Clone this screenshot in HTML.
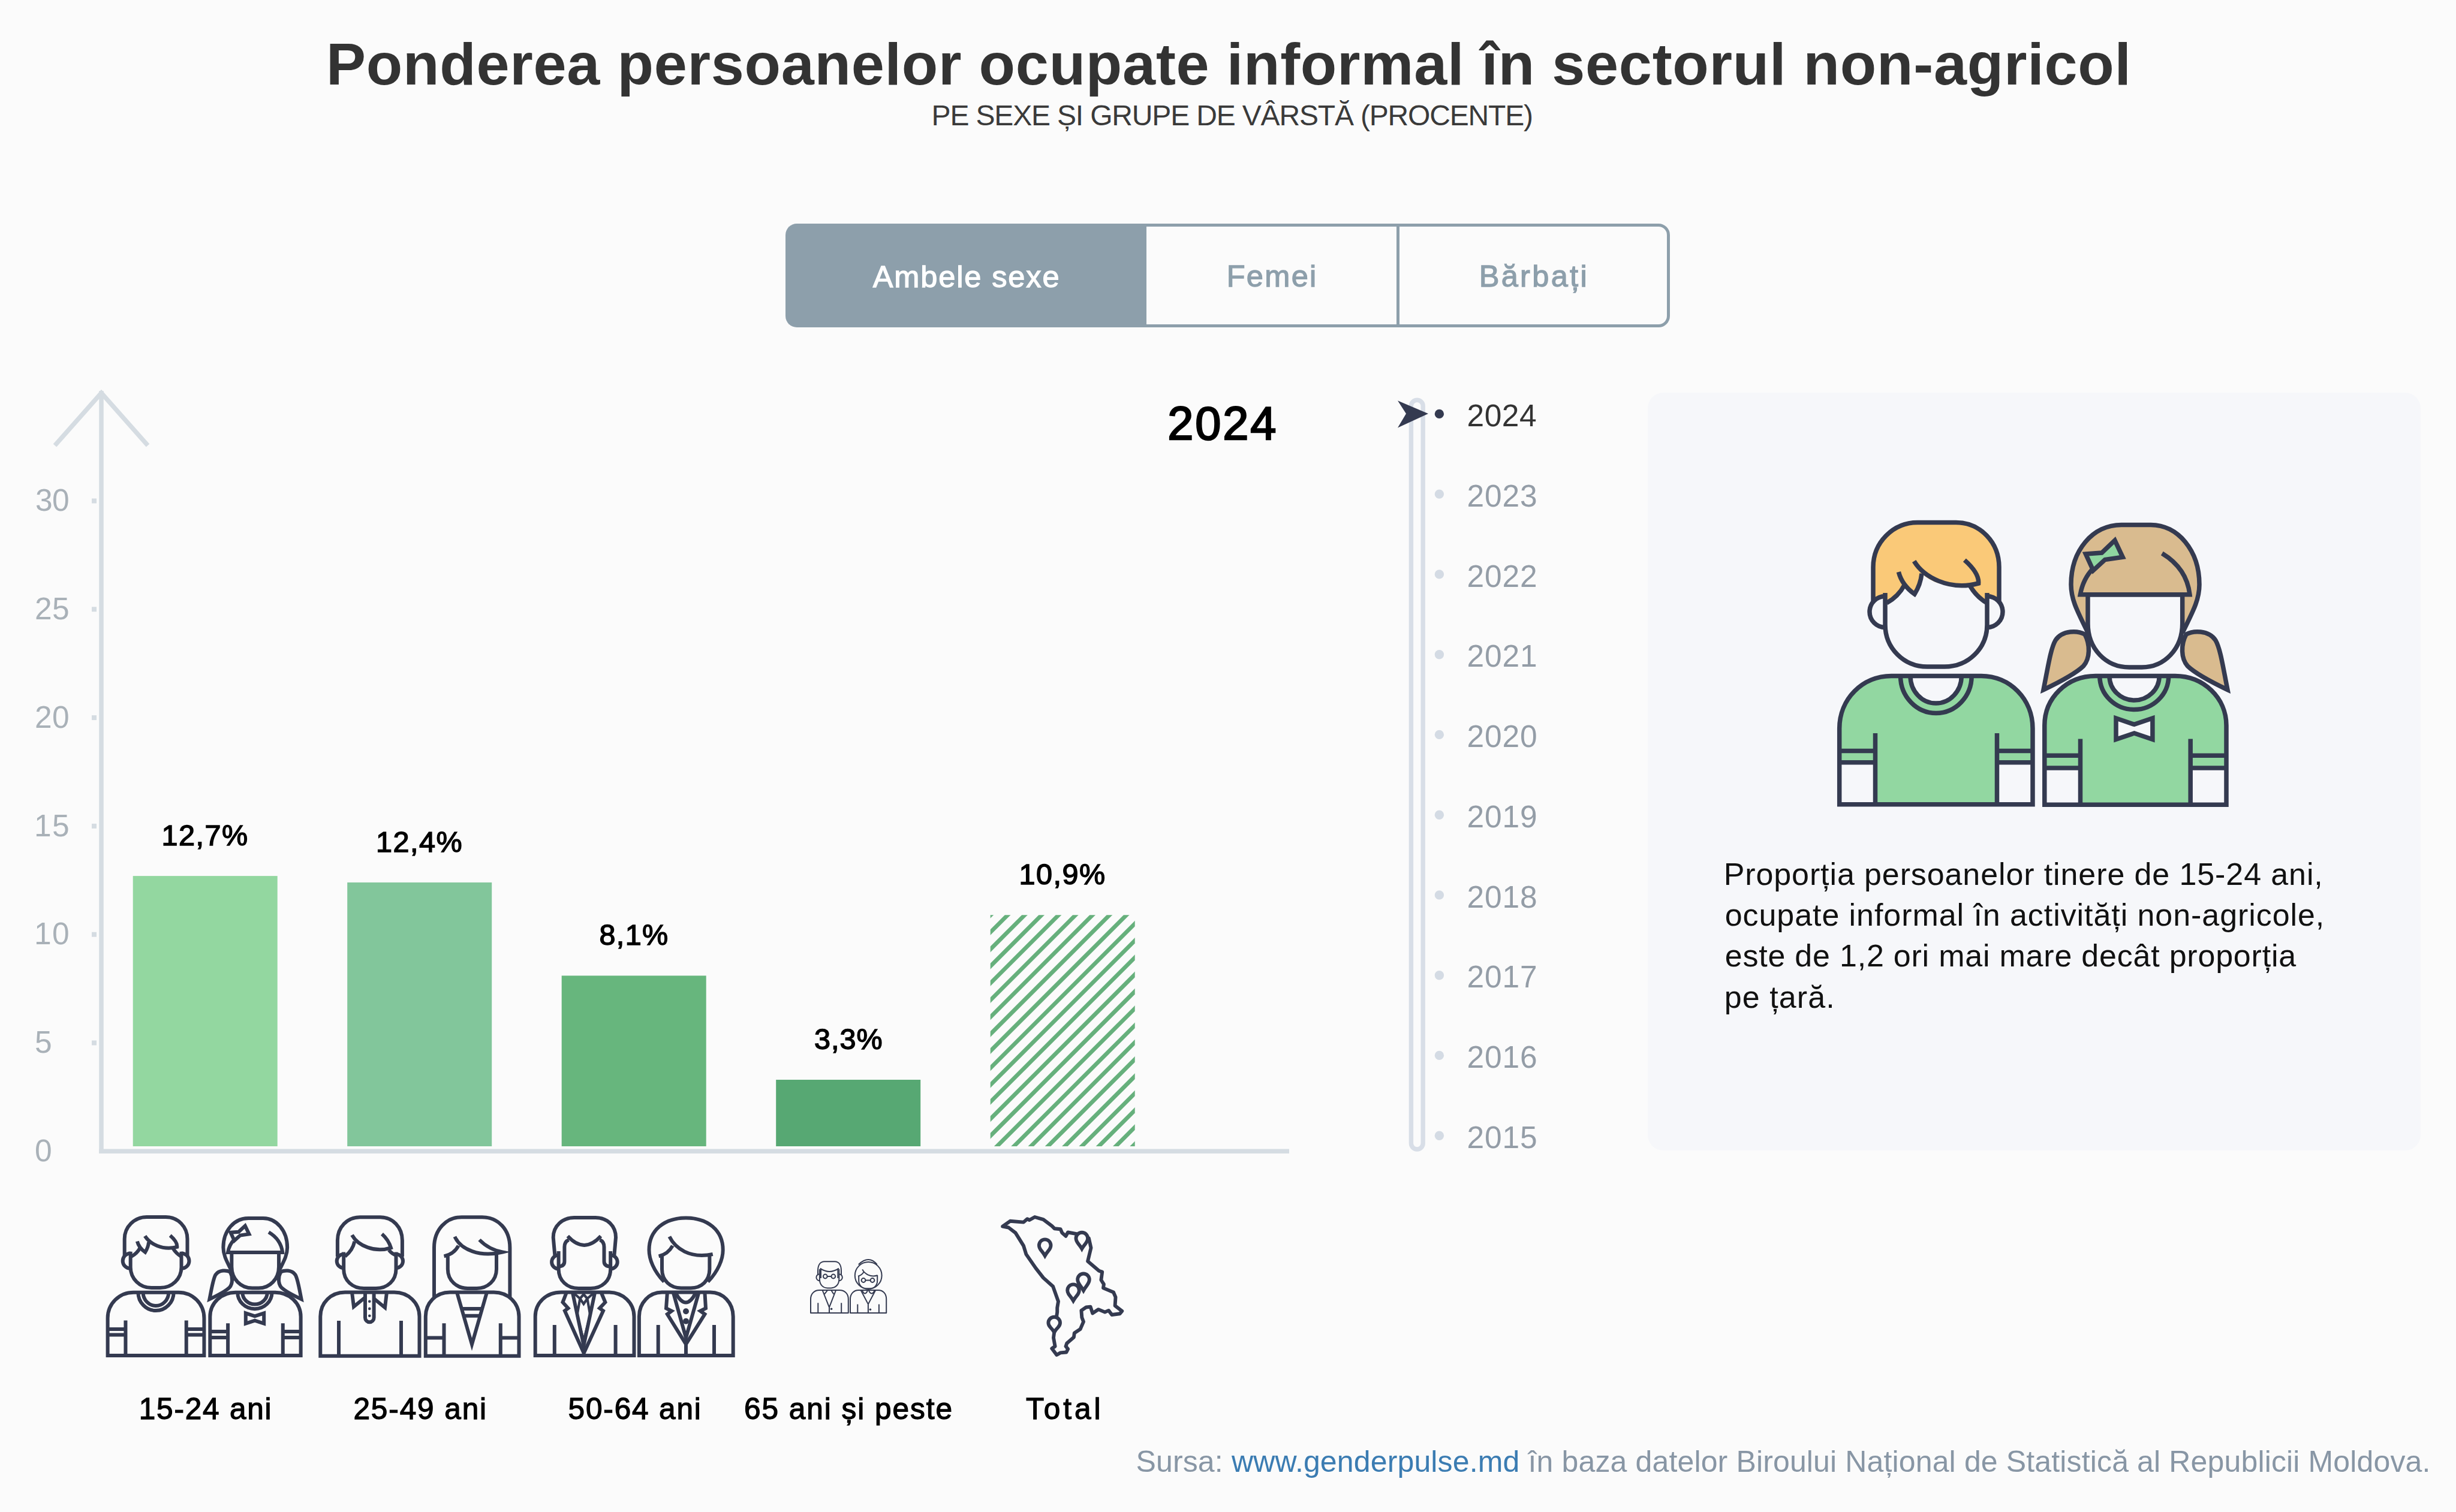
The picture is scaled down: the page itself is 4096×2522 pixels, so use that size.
<!DOCTYPE html>
<html lang="ro">
<head>
<meta charset="utf-8">
<title>Ponderea persoanelor ocupate informal în sectorul non-agricol</title>
<style>
html,body{margin:0;padding:0;}
body{width:4096px;height:2522px;background:#fbfbfb;font-family:"Liberation Sans", sans-serif;}
#root{position:relative;width:4096px;height:2522px;background:#fbfbfb;overflow:hidden;}
.t{position:absolute;white-space:nowrap;line-height:1;margin:0;padding:0;font-weight:normal;}
.abs{position:absolute;}
svg{position:absolute;left:0;top:0;overflow:visible;}
.btn{position:absolute;top:372.5px;height:163px;box-sizing:content-box;border:5.5px solid #8d9fab;}
.ns *{vector-effect:non-scaling-stroke;}
a{color:#3b7cb2;text-decoration:none;}
</style>
</head>
<body>
<div id="root">
<h1 class="t" id="title" style="left:544.0px;top:56.7px;font-size:99px;color:#333333;font-weight:bold;letter-spacing:0.75px;">Ponderea persoanelor ocupate informal în sectorul non-agricol</h1>
<h2 class="t" id="sub" style="left:1553.6px;top:169.3px;font-size:48px;color:#3a3a3a;letter-spacing:-1.17px;">PE SEXE ȘI GRUPE DE VÂRSTĂ (PROCENTE)</h2>
<div class="btn" style="left:1310px;width:596.5px;background:#8d9fab;border-radius:19px 0 0 19px;border-right:none;"></div>
<div class="btn" style="left:1906.5px;width:422.3px;border-radius:0;border-right:none;"></div>
<div class="btn" style="left:2328.8px;width:446.2px;border-radius:0 19px 19px 0;"></div>
<div class="t" id="b1" style="left:1455.7px;top:436.6px;font-size:50.5px;color:#ffffff;letter-spacing:1.89px;-webkit-text-stroke:1.3px #ffffff;">Ambele sexe</div>
<div class="t" id="b2" style="left:2045.7px;top:435.8px;font-size:50.5px;color:#8d9fab;letter-spacing:2.33px;-webkit-text-stroke:1.3px #8d9fab;">Femei</div>
<div class="t" id="b3" style="left:2466.7px;top:435.8px;font-size:50.5px;color:#8d9fab;letter-spacing:3.32px;-webkit-text-stroke:1.3px #8d9fab;">Bărbați</div>
<svg width="4096" height="2522" viewBox="0 0 4096 2522">
<path d="M169,1924.05 V652" fill="none" stroke="#d5dce2" stroke-width="7.5"/>
<path d="M165.25,1920.3 H2150" fill="none" stroke="#d5dce2" stroke-width="7.5"/>
<path d="M91.5,743 L169,655.5 L246.5,743" fill="none" stroke="#d5dce2" stroke-width="7.5" stroke-linejoin="miter"/>
<rect x="153" y="1735.5" width="8" height="8" fill="#d5dce2"/>
<rect x="153" y="1554.7" width="8" height="8" fill="#d5dce2"/>
<rect x="153" y="1373.9" width="8" height="8" fill="#d5dce2"/>
<rect x="153" y="1193.1" width="8" height="8" fill="#d5dce2"/>
<rect x="153" y="1012.3" width="8" height="8" fill="#d5dce2"/>
<rect x="153" y="831.5" width="8" height="8" fill="#d5dce2"/>
<rect x="221.7" y="1461.1" width="241" height="450.9" fill="#93d7a0"/>
<rect x="579.2" y="1471.9" width="241" height="440.1" fill="#82c69b"/>
<rect x="936.7" y="1627.4" width="241" height="284.6" fill="#67b67d"/>
<rect x="1294.2" y="1801.0" width="241" height="111.0" fill="#57a873"/>
<clipPath id="hc"><rect x="1651.7" y="1526.2" width="241" height="385.8"/></clipPath>
<g clip-path="url(#hc)" stroke="#66b07c" stroke-width="6.8">
<path d="M1641.7,1282.1 L1902.7,1021.1"/><path d="M1641.7,1310.4 L1902.7,1049.4"/><path d="M1641.7,1338.7 L1902.7,1077.7"/><path d="M1641.7,1367.0 L1902.7,1106.0"/><path d="M1641.7,1395.3 L1902.7,1134.3"/><path d="M1641.7,1423.6 L1902.7,1162.6"/><path d="M1641.7,1451.9 L1902.7,1190.9"/><path d="M1641.7,1480.2 L1902.7,1219.2"/><path d="M1641.7,1508.5 L1902.7,1247.5"/><path d="M1641.7,1536.8 L1902.7,1275.8"/><path d="M1641.7,1565.1 L1902.7,1304.1"/><path d="M1641.7,1593.4 L1902.7,1332.4"/><path d="M1641.7,1621.7 L1902.7,1360.7"/><path d="M1641.7,1650.0 L1902.7,1389.0"/><path d="M1641.7,1678.3 L1902.7,1417.3"/><path d="M1641.7,1706.6 L1902.7,1445.6"/><path d="M1641.7,1734.9 L1902.7,1473.9"/><path d="M1641.7,1763.2 L1902.7,1502.2"/><path d="M1641.7,1791.5 L1902.7,1530.5"/><path d="M1641.7,1819.8 L1902.7,1558.8"/><path d="M1641.7,1848.1 L1902.7,1587.1"/><path d="M1641.7,1876.4 L1902.7,1615.4"/><path d="M1641.7,1904.7 L1902.7,1643.7"/><path d="M1641.7,1933.0 L1902.7,1672.0"/><path d="M1641.7,1961.3 L1902.7,1700.3"/><path d="M1641.7,1989.6 L1902.7,1728.6"/><path d="M1641.7,2017.9 L1902.7,1756.9"/><path d="M1641.7,2046.2 L1902.7,1785.2"/><path d="M1641.7,2074.5 L1902.7,1813.5"/><path d="M1641.7,2102.8 L1902.7,1841.8"/><path d="M1641.7,2131.1 L1902.7,1870.1"/><path d="M1641.7,2159.4 L1902.7,1898.4"/><path d="M1641.7,2187.7 L1902.7,1926.7"/><path d="M1641.7,2216.0 L1902.7,1955.0"/>
</g>
<rect x="2353.4" y="667.2" width="19.8" height="1249.8" rx="9.9" fill="none" stroke="#d8dee7" stroke-width="7.4"/>
<path d="M2331,668.3 L2382,690 L2331,713.6 L2345,690 Z" fill="#343a50"/>
<circle cx="2400.4" cy="690.4" r="7.7" fill="#343a50"/>
<circle cx="2400.4" cy="824.1" r="7.7" fill="#d4dbe4"/>
<circle cx="2400.4" cy="957.9" r="7.7" fill="#d4dbe4"/>
<circle cx="2400.4" cy="1091.7" r="7.7" fill="#d4dbe4"/>
<circle cx="2400.4" cy="1225.4" r="7.7" fill="#d4dbe4"/>
<circle cx="2400.4" cy="1359.2" r="7.7" fill="#d4dbe4"/>
<circle cx="2400.4" cy="1492.9" r="7.7" fill="#d4dbe4"/>
<circle cx="2400.4" cy="1626.7" r="7.7" fill="#d4dbe4"/>
<circle cx="2400.4" cy="1760.4" r="7.7" fill="#d4dbe4"/>
<circle cx="2400.4" cy="1894.2" r="7.7" fill="#d4dbe4"/>
<g class="ns" stroke-width="6" stroke-linejoin="miter" stroke-miterlimit="10" transform="translate(-1351.18,1602.08) scale(0.499,0.491)">
<path d="M3124,1006 V946 C3124,905 3157,871.5 3198,871.5 H3262 C3303,871.5 3334,905 3334,946 V1006 Z" fill="#fbfbfb" stroke="none"/>
<path d="M3124,1006 V946 C3124,905 3157,871.5 3198,871.5 H3262 C3303,871.5 3334,905 3334,946 V1006" fill="none" stroke="#343a50"/>
<path d="M3144,994.5 A26,26 0 0 0 3144,1046.5" fill="#fbfbfb" stroke="#343a50"/>
<path d="M3314,994.5 A26,26 0 0 1 3314,1046.5" fill="#fbfbfb" stroke="#343a50"/>
<path d="M3144,1009 L3146.6,1005.6 Q3166,995 3176,976 Q3180,983 3193,991 Q3203,975 3205,956.6 C3222,974 3258,984 3299.6,973 L3290,978 Q3297,996 3313.4,1005.6 L3314,1009 V1042 C3314,1081 3283,1112 3243,1112 H3214 C3175,1112 3144,1081 3144,1042 Z" fill="#fbfbfb" stroke="none"/>
<path d="M3144,989 V1042 C3144,1081 3175,1112 3214,1112 H3243 C3283,1112 3314,1081 3314,1042 V989" fill="none" stroke="#343a50"/>
<path d="M3146.6,1005.6 Q3166,995 3176,976" fill="none" stroke="#343a50"/>
<path d="M3166.4,954 Q3172,976 3193,991 Q3203,975 3205,956.6" fill="none" stroke="#343a50"/>
<path d="M3192.2,936 C3208,962 3250,986 3299.6,973 Q3301,956 3276.4,934.3" fill="none" stroke="#343a50"/>
<path d="M3286,978 Q3296,995 3313.4,1005.6" fill="none" stroke="#343a50"/>
<path d="M3067.7,1341.8 V1215 C3067.7,1166 3106,1127.5 3154.3,1127.5 H3304.3 C3352,1127.5 3390,1166 3390,1215 V1341.8 Z" fill="#fbfbfb" stroke="none"/>
<path d="M3067.7,1271.8 H3127.5 V1341.8 H3067.7 Z" fill="#fbfbfb" stroke="none"/>
<path d="M3330.5,1271.8 H3390 V1341.8 H3330.5 Z" fill="#fbfbfb" stroke="none"/>
<path d="M3186,1127.5 A42.6,45.5 0 0 0 3271.3,1127.5 Z" fill="#fbfbfb" stroke="none"/>
<path d="M3067.7,1341.8 V1215 C3067.7,1166 3106,1127.5 3154.3,1127.5 H3304.3 C3352,1127.5 3390,1166 3390,1215 V1341.8 Z" fill="none" stroke="#343a50"/>
<path d="M3169.5,1127.5 A59.3,62 0 0 0 3288.2,1127.5" fill="none" stroke="#343a50"/>
<path d="M3186,1127.5 A42.6,45.5 0 0 0 3271.3,1127.5" fill="none" stroke="#343a50"/>
<path d="M3127.5,1223 V1341.8 M3330.5,1223 V1341.8" fill="none" stroke="#343a50"/>
<path d="M3067.7,1252.5 H3127.5 M3067.7,1271.8 H3127.5 M3330.5,1252.5 H3390 M3330.5,1271.8 H3390" fill="none" stroke="#343a50"/>
<path d="M3477,1058 C3466,1052 3440,1050 3428,1068 C3420,1082 3416,1110 3408,1150.5 C3430,1140 3460,1125 3474.6,1111 C3486,1098 3486,1075 3477,1058 Z" fill="#fbfbfb" stroke="#343a50"/>
<g transform="translate(7123,0) scale(-1,1)"><path d="M3477,1058 C3466,1052 3440,1050 3428,1068 C3420,1082 3416,1110 3408,1150.5 C3430,1140 3460,1125 3474.6,1111 C3486,1098 3486,1075 3477,1058 Z" fill="#fbfbfb" stroke="#343a50"/>
</g>
<path d="M3481,1053 C3462,1015 3454,998 3454,975 C3454,918 3490,875.4 3538,875.4 H3587 C3632,875.4 3668,918 3668,975 C3668,998 3660,1015 3641,1053 Z" fill="#fbfbfb" stroke="#343a50"/>
<path d="M3482,991.8 V1040 C3482,1082 3512,1113 3551,1113 H3572 C3610,1113 3639.7,1082 3639.7,1040 V991.8 Z" fill="#fbfbfb" stroke="#343a50"/>
<path d="M3605.8,923 Q3647,948 3652,991.8 H3469.3 Q3474,965 3491.6,947.3" fill="none" stroke="#343a50"/>
<path d="M3478.4,924 L3505.3,922 L3527,901.4 L3540.2,929.3 L3510.6,933.6 L3491,951.6 Z" fill="#fbfbfb" stroke="#343a50"/>
<path d="M3409.8,1342.2 V1210 C3409.8,1164 3447,1127.5 3495,1127.5 H3627.4 C3675,1127.5 3713,1164 3713,1210 V1342.2 Z" fill="#fbfbfb" stroke="none"/>
<path d="M3409.8,1281 H3469.5 V1342.2 H3409.8 Z" fill="#fbfbfb" stroke="none"/>
<path d="M3653.2,1281 H3713 V1342.2 H3653.2 Z" fill="#fbfbfb" stroke="none"/>
<path d="M3518,1127.5 A41.55,40.5 0 0 0 3601.2,1127.5 Z" fill="#fbfbfb" stroke="none"/>
<path d="M3409.8,1342.2 V1210 C3409.8,1164 3447,1127.5 3495,1127.5 H3627.4 C3675,1127.5 3713,1164 3713,1210 V1342.2 Z" fill="none" stroke="#343a50"/>
<path d="M3501.8,1127.5 A57.4,56 0 0 0 3616.7,1127.5" fill="none" stroke="#343a50"/>
<path d="M3518,1127.5 A41.55,40.5 0 0 0 3601.2,1127.5" fill="none" stroke="#343a50"/>
<path d="M3529,1198 L3559.4,1208.4 L3589.9,1198 V1233.3 L3559.4,1223 L3529,1233.3 Z" fill="#fbfbfb" stroke="#343a50"/>
<path d="M3469.5,1232.4 V1342.2 M3653.2,1232.4 V1342.2" fill="none" stroke="#343a50"/>
<path d="M3409.8,1260.3 H3469.5 M3409.8,1281 H3469.5 M3653.2,1260.3 H3713 M3653.2,1281 H3713" fill="none" stroke="#343a50"/>
</g>
<g stroke-width="6" stroke-linejoin="miter" stroke-miterlimit="10">
<path d="M562.9,2096 V2069 C562.9,2047 579,2030.2 600.4,2030.2 H634.3 C655,2030.2 670.9,2047 670.9,2069 V2096" fill="#fbfbfb" stroke="#343a50"/>
<path d="M573.2,2092 A11.5,11.5 0 0 0 573.2,2115" fill="#fbfbfb" stroke="#343a50"/>
<path d="M660.5,2092 A11.5,11.5 0 0 1 660.5,2115" fill="#fbfbfb" stroke="#343a50"/>
<path d="M573.2,2088.6 V2117 C573.2,2136 588,2149 607,2149 H627 C646,2149 660.5,2136 660.5,2117 V2088.6" fill="none" stroke="#343a50"/>
<path d="M587,2060 C597,2078 625,2090 652,2081.4 Q648,2068 637,2058.2" fill="none" stroke="#343a50"/>
<path d="M591.4,2070.7 Q588,2086 575.4,2095.7" fill="none" stroke="#343a50"/>
<path d="M648.6,2085 Q653,2091 661,2094" fill="none" stroke="#343a50"/>
<path d="M534.3,2261.8 V2196 C534.3,2173 552,2155.5 575.4,2155.5 H657.5 C681,2155.5 699.5,2173 699.5,2196 V2261.8 Z" fill="#fbfbfb" stroke="#343a50"/>
<path d="M565,2203 V2261.8 M669,2203 V2261.8" fill="none" stroke="#343a50"/>
<path d="M587,2155.5 L590,2179.6 L609,2164 M645,2155.5 L642,2181 L623.6,2166" fill="none" stroke="#343a50"/>
<path d="M609,2158 V2198 A7.3,7.3 0 0 0 623.6,2198 V2158" fill="none" stroke="#343a50"/>
<circle cx="616.3" cy="2170.7" r="2.3" fill="#343a50" stroke="none"/>
<circle cx="616.3" cy="2182.9" r="2.3" fill="#343a50" stroke="none"/>
<circle cx="616.3" cy="2194.8" r="2.3" fill="#343a50" stroke="none"/>
<path d="M724,2165 V2081 C724,2051 744,2030.2 770,2030.2 H804 C831,2030.2 850.4,2051 850.4,2081 V2165" fill="#fbfbfb" stroke="#343a50"/>
<path d="M709.8,2261.8 V2196 C709.8,2173 727,2155.5 750.4,2155.5 H823.6 C847,2155.5 865.5,2173 865.5,2196 V2261.8 Z" fill="#fbfbfb" stroke="#343a50"/>
<path d="M746.8,2095.7 V2117 C746.8,2136 762,2149 780,2149 H795 C813,2149 828,2136 828,2117 V2089" fill="none" stroke="#343a50"/>
<path d="M758.4,2062.7 C768,2084 800,2098 838,2088.5 Q815,2084 799.5,2068" fill="none" stroke="#343a50"/>
<path d="M764.6,2077.9 Q757,2092 740.5,2095.4" fill="none" stroke="#343a50"/>
<path d="M762,2155.5 L787,2242.5 L812,2155.5" fill="none" stroke="#343a50"/>
<path d="M769.9,2182.9 H804.1 M773.3,2194.8 H800.7" fill="none" stroke="#343a50"/>
<path d="M740.5,2207.3 V2261.8 M834.8,2207.3 V2261.8 M709.8,2231.4 H740.5 M834.8,2231.4 H865.5" fill="none" stroke="#343a50"/>
<path d="M925.4,2094 L922.7,2064 C922.7,2045 938,2031 957.5,2031 H993.2 C1013,2031 1027,2045 1027,2064 L1024.4,2094" fill="#fbfbfb" stroke="#343a50"/>
<path d="M931.6,2093.5 A11.5,11.5 0 0 0 931.6,2116.5" fill="#fbfbfb" stroke="#343a50"/>
<path d="M1018.2,2093.5 A11.5,11.5 0 0 1 1018.2,2116.5" fill="#fbfbfb" stroke="#343a50"/>
<path d="M931.6,2087 V2117 C931.6,2136 946,2149 965,2149 H985 C1004,2149 1018.2,2136 1018.2,2117 V2087" fill="none" stroke="#343a50"/>
<path d="M931.6,2112.7 Q941.4,2112 941.4,2104 V2080 Q941.4,2071 948.6,2068" fill="none" stroke="#343a50"/>
<path d="M1018.2,2112.7 Q1007.5,2112 1007.5,2104 V2080 Q1007.5,2071 1000.4,2068" fill="none" stroke="#343a50"/>
<path d="M946.8,2061.8 Q974.5,2092 1002,2061.8" fill="none" stroke="#343a50"/>
<path d="M892.7,2260.9 V2196 C892.7,2173 911,2155.5 936,2155.5 H1014.6 C1039,2155.5 1057.5,2173 1057.5,2196 V2260.9 Z" fill="#fbfbfb" stroke="#343a50"/>
<path d="M924.8,2210 V2260.9 M1026.6,2210 V2260.9" fill="none" stroke="#343a50"/>
<path d="M944.9,2155.5 L938.5,2172.2 L947.5,2182.1 L941.9,2186.4 L973.7,2257 L1006,2186.4 L1000,2182.1 L1009.4,2172.2 L1002.5,2155.5" fill="none" stroke="#343a50"/>
<path d="M954.8,2155.5 L973.5,2244 L992.2,2155.5" fill="none" stroke="#343a50"/>
<path d="M973.4,2159 L967.3,2166 L973.4,2175 L979.5,2166 Z M957.5,2157.5 L967.3,2166 L962.5,2194 L973.4,2236 L984.3,2194 L979.5,2166 L989.3,2157.5" fill="none" stroke="#343a50" stroke-width="4.2"/>
<path d="M1107.5,2138 C1090,2120 1082.5,2100 1082.5,2085 C1082.5,2052 1108,2031.4 1144,2031.4 C1180,2031.4 1205.7,2052 1205.7,2085 C1205.7,2100 1198,2120 1180.7,2138" fill="#fbfbfb" stroke="#343a50"/>
<path d="M1104,2095.7 V2117 C1104,2136 1118,2148.4 1136,2148.4 H1152 C1170,2148.4 1183.4,2136 1183.4,2117 V2093" fill="none" stroke="#343a50"/>
<path d="M1116.4,2062.7 C1126,2082 1150,2100 1188.75,2092" fill="none" stroke="#343a50"/>
<path d="M1121.8,2077.9 Q1114,2092 1098.6,2095.4" fill="none" stroke="#343a50"/>
<path d="M1065.9,2261 V2196 C1065.9,2173 1083,2155.5 1104,2155.5 H1184.3 C1206,2155.5 1222.7,2173 1222.7,2196 V2261 Z" fill="#fbfbfb" stroke="#343a50"/>
<path d="M1097.7,2210 V2261 M1191,2210 V2261" fill="none" stroke="#343a50"/>
<path d="M1112.9,2155.5 L1111,2182.3 L1120,2186.8 L1112.9,2192 L1144,2242 L1175.4,2192 L1168,2186.8 L1177,2182.3 L1175.4,2155.5 M1144,2242 V2261" fill="none" stroke="#343a50"/>
<path d="M1122.7,2155.5 L1144,2231.4 L1165.5,2155.5" fill="none" stroke="#343a50"/>
<path d="M1127,2157 Q1144,2188 1160,2157" fill="none" stroke="#343a50"/>
<circle cx="1144" cy="2187.3" r="5" fill="#343a50" stroke="none"/>
<circle cx="1144" cy="2203.75" r="5" fill="#343a50" stroke="none"/>
</g>
<g stroke-width="2" stroke-linejoin="round">
<path d="M1364,2131.6 V2120 C1364,2110 1368,2104.2 1375,2104.2 H1392.2 C1399,2104.2 1403,2110 1403,2120 V2131.6" fill="#fbfbfb" stroke="#343a50"/>
<path d="M1366.9,2125.2 A5.5,5.5 0 0 0 1366.9,2136.2" fill="#fbfbfb" stroke="#343a50"/>
<path d="M1399.3,2125.2 A5.5,5.5 0 0 1 1399.3,2136.2" fill="#fbfbfb" stroke="#343a50"/>
<path d="M1366.9,2117 V2134 C1366.9,2143 1373,2148.4 1380,2148.4 H1386 C1393,2148.4 1399.3,2143 1399.3,2134 V2117" fill="none" stroke="#343a50"/>
<path d="M1367.7,2115.7 Q1383.2,2126.3 1399,2115.7 M1369,2117 V2132 M1397.4,2117 V2132" fill="none" stroke="#343a50"/>
<circle cx="1376.3" cy="2129" r="3.4" fill="none" stroke="#343a50"/>
<circle cx="1389.8" cy="2129" r="3.4" fill="none" stroke="#343a50"/>
<path d="M1379.7,2129 H1386.4" fill="none" stroke="#343a50"/>
<path d="M1352,2190 V2167 C1352,2158 1358,2152 1366.4,2152 H1400 C1409,2152 1414.8,2158 1414.8,2167 V2190 Z" fill="#fbfbfb" stroke="#343a50"/>
<path d="M1364.3,2173.3 V2190 M1403.2,2173.3 V2190" fill="none" stroke="#343a50"/>
<path d="M1371.6,2152 L1383,2180.6 L1394.1,2152 M1383,2180.6 V2190" fill="none" stroke="#343a50"/>
<path d="M1375,2158.7 L1380.2,2152 M1390.5,2158.7 L1386.2,2152" fill="none" stroke="#343a50"/>
<circle cx="1386.6" cy="2183.2" r="1.8" fill="#343a50" stroke="none"/>
<path d="M1431.8,2109.2 Q1449,2093 1462.7,2109.2" fill="none" stroke="#343a50"/>
<ellipse cx="1448.2" cy="2127.5" rx="22.4" ry="22.5" fill="#fbfbfb" stroke="#343a50"/>
<path d="M1432.2,2129 V2136 C1432.2,2144 1438,2149.2 1445,2149.2 H1451 C1458,2149.2 1463.2,2144 1463.2,2136 V2127" fill="none" stroke="#343a50"/>
<path d="M1438.2,2117.4 C1442,2125 1452,2131 1463.6,2127.3 M1440.4,2122 Q1437,2127 1431,2128.6" fill="none" stroke="#343a50"/>
<circle cx="1440" cy="2135.5" r="3.4" fill="none" stroke="#343a50"/>
<circle cx="1455" cy="2135.5" r="3.4" fill="none" stroke="#343a50"/>
<path d="M1443.4,2135.5 H1451.6" fill="none" stroke="#343a50"/>
<path d="M1418,2190 V2167 C1418,2158 1424,2152 1431.8,2152 H1464.5 C1473,2152 1478.2,2158 1478.2,2167 V2190 Z" fill="#fbfbfb" stroke="#343a50"/>
<path d="M1430.3,2175.4 V2190 M1465.9,2175.4 V2190" fill="none" stroke="#343a50"/>
<path d="M1435.6,2152 L1447.9,2175.4 L1460.2,2152 M1447.9,2175.4 V2190" fill="none" stroke="#343a50"/>
<path d="M1438.2,2153 Q1442.5,2162 1446.8,2153 M1449,2153 Q1453.7,2162 1458.4,2153" fill="none" stroke="#343a50"/>
<circle cx="1451.4" cy="2184.3" r="1.8" fill="#343a50" stroke="none"/>
</g>
<g stroke-width="5.9" stroke-linejoin="round">
<path d="M1672.1,2045.7 L1684.6,2036.8 L1707,2038.6 L1713.2,2033.2 L1716.8,2035 L1725.7,2030 L1740,2034.1 L1754.3,2044.8 L1758.8,2049.3 L1768.6,2050.2 L1771.3,2056.4 L1777.5,2061.8 L1781,2055.5 L1795.4,2058.2 L1815.9,2065.4 L1819.5,2081.4 L1814.1,2103.75 L1832.9,2119.8 L1838.2,2121.6 L1836.4,2135 L1840.9,2142.1 L1840,2148.4 L1857,2155.5 L1860.5,2163.6 L1859.6,2177.9 L1871.25,2186.8 L1867.7,2191.25 L1854.3,2193 L1848.9,2185.9 L1842.7,2188.6 L1832,2184.1 L1822.1,2190.4 L1818.6,2179.6 L1811.4,2180.5 L1803.4,2185.9 L1804.3,2197.5 L1807,2204.6 L1801.6,2217.1 L1791.8,2223.4 L1790.9,2230.5 L1779.3,2240.4 L1777.5,2245.7 L1781.1,2250.2 L1778.4,2255.5 L1768.6,2256.4 L1762.3,2260 L1754.3,2249.3 L1759.6,2245.7 L1757,2231.4 L1757.9,2224.3 L1763.2,2188.6 L1763.2,2181.4 L1765,2170.7 L1756.1,2145.7 L1740,2131.4 L1727.5,2115.4 L1711.4,2092.1 L1707,2077.9 L1693.6,2056.4 L1682,2047.5 Z" fill="none" stroke="#343a50"/>
<path d="M1742.7,2094.5 C1737.7,2085.5 1732.9,2084.2000000000003 1732.9,2077.2000000000003 A9.8,9.8 0 1 1 1752.5,2077.2000000000003 C1752.5,2084.2000000000003 1747.7,2085.5 1742.7,2094.5 Z" fill="#fbfbfb" stroke="#343a50" stroke-linejoin="miter"/>
<path d="M1804.3,2082.8999999999996 C1799.3,2073.8999999999996 1794.5,2072.6000000000004 1794.5,2065.6000000000004 A9.8,9.8 0 1 1 1814.1,2065.6000000000004 C1814.1,2072.6000000000004 1809.3,2073.8999999999996 1804.3,2082.8999999999996 Z" fill="#fbfbfb" stroke="#343a50" stroke-linejoin="miter"/>
<path d="M1807,2152.5 C1802,2143.5 1797.2,2141.3 1797.2,2134.3 A9.8,9.8 0 1 1 1816.8,2134.3 C1816.8,2141.3 1812,2143.5 1807,2152.5 Z" fill="#fbfbfb" stroke="#343a50" stroke-linejoin="miter"/>
<path d="M1790,2169.5 C1785,2160.5 1780.2,2159.2000000000003 1780.2,2152.2000000000003 A9.8,9.8 0 1 1 1799.8,2152.2000000000003 C1799.8,2159.2000000000003 1795,2160.5 1790,2169.5 Z" fill="#fbfbfb" stroke="#343a50" stroke-linejoin="miter"/>
<path d="M1758.2,2222.2 C1753.2,2213.2 1748.4,2213.6000000000004 1748.4,2206.6000000000004 A9.8,9.8 0 1 1 1768.0,2206.6000000000004 C1768.0,2213.6000000000004 1763.2,2213.2 1758.2,2222.2 Z" fill="#fbfbfb" stroke="#343a50" stroke-linejoin="miter"/>
</g>
</svg>
<div class="t" id="y0" style="left:58.0px;top:1894.0px;font-size:51.5px;color:#a9b1b8;letter-spacing:1.00px;">0</div>
<div class="t" id="y5" style="left:58.0px;top:1713.2px;font-size:51.5px;color:#a9b1b8;letter-spacing:1.00px;">5</div>
<div class="t" id="y10" style="left:57.0px;top:1532.4px;font-size:51.5px;color:#a9b1b8;letter-spacing:1.36px;">10</div>
<div class="t" id="y15" style="left:57.0px;top:1351.6px;font-size:51.5px;color:#a9b1b8;letter-spacing:1.36px;">15</div>
<div class="t" id="y20" style="left:58.0px;top:1170.8px;font-size:51.5px;color:#a9b1b8;letter-spacing:0.36px;">20</div>
<div class="t" id="y25" style="left:58.0px;top:990.0px;font-size:51.5px;color:#a9b1b8;letter-spacing:0.36px;">25</div>
<div class="t" id="y30" style="left:59.0px;top:809.2px;font-size:51.5px;color:#a9b1b8;letter-spacing:-0.64px;">30</div>
<div class="t" id="v0" style="left:269.4px;top:1368.7px;font-size:48.5px;color:#000000;letter-spacing:1.53px;-webkit-text-stroke:1.5px #000000;">12,7%</div>
<div class="t" id="v1" style="left:627.0px;top:1379.6px;font-size:48.5px;color:#000000;letter-spacing:1.53px;-webkit-text-stroke:1.5px #000000;">12,4%</div>
<div class="t" id="v2" style="left:999.5px;top:1535.0px;font-size:48.5px;color:#000000;letter-spacing:1.36px;-webkit-text-stroke:1.5px #000000;">8,1%</div>
<div class="t" id="v3" style="left:1358.0px;top:1708.6px;font-size:48.5px;color:#000000;letter-spacing:1.03px;-webkit-text-stroke:1.5px #000000;">3,3%</div>
<div class="t" id="v4" style="left:1699.5px;top:1433.8px;font-size:48.5px;color:#000000;letter-spacing:1.53px;-webkit-text-stroke:1.5px #000000;">10,9%</div>
<div class="t" id="x0" style="left:231.8px;top:2324.9px;font-size:49.5px;color:#000000;letter-spacing:1.79px;-webkit-text-stroke:1.3px #000000;">15-24 ani</div>
<div class="t" id="x1" style="left:589.4px;top:2324.9px;font-size:49.5px;color:#000000;letter-spacing:1.91px;-webkit-text-stroke:1.3px #000000;">25-49 ani</div>
<div class="t" id="x2" style="left:947.5px;top:2324.9px;font-size:49.5px;color:#000000;letter-spacing:1.87px;-webkit-text-stroke:1.3px #000000;">50-64 ani</div>
<div class="t" id="x3" style="left:1240.9px;top:2324.9px;font-size:49.5px;color:#000000;letter-spacing:2.00px;-webkit-text-stroke:1.3px #000000;">65 ani și peste</div>
<div class="t" id="x4" style="left:1710.9px;top:2324.9px;font-size:49.5px;color:#000000;letter-spacing:5.03px;-webkit-text-stroke:1.3px #000000;">Total</div>
<div class="t" id="big" style="left:1947.2px;top:668.0px;font-size:77.5px;color:#000000;letter-spacing:2.90px;-webkit-text-stroke:2.5px #000000;">2024</div>
<div class="t" id="yr0" style="left:2446.5px;top:668.1px;font-size:51.5px;color:#333333;letter-spacing:0.52px;">2024</div>
<div class="t" id="yr1" style="left:2446.5px;top:801.9px;font-size:51.5px;color:#949da7;letter-spacing:0.86px;">2023</div>
<div class="t" id="yr2" style="left:2446.5px;top:935.6px;font-size:51.5px;color:#949da7;letter-spacing:0.86px;">2022</div>
<div class="t" id="yr3" style="left:2446.5px;top:1069.4px;font-size:51.5px;color:#949da7;letter-spacing:0.86px;">2021</div>
<div class="t" id="yr4" style="left:2446.5px;top:1203.1px;font-size:51.5px;color:#949da7;letter-spacing:0.86px;">2020</div>
<div class="t" id="yr5" style="left:2446.5px;top:1336.9px;font-size:51.5px;color:#949da7;letter-spacing:0.86px;">2019</div>
<div class="t" id="yr6" style="left:2446.5px;top:1470.6px;font-size:51.5px;color:#949da7;letter-spacing:0.86px;">2018</div>
<div class="t" id="yr7" style="left:2446.5px;top:1604.4px;font-size:51.5px;color:#949da7;letter-spacing:0.86px;">2017</div>
<div class="t" id="yr8" style="left:2446.5px;top:1738.1px;font-size:51.5px;color:#949da7;letter-spacing:0.86px;">2016</div>
<div class="t" id="yr9" style="left:2446.5px;top:1871.9px;font-size:51.5px;color:#949da7;letter-spacing:0.86px;">2015</div>
<div class="abs" style="left:2748px;top:655px;width:1289px;height:1264px;background:#f6f7fa;border-radius:26px;"></div>
<svg width="4096" height="2522" viewBox="0 0 4096 2522">
<g fill="none" stroke="#343a50" stroke-width="7.5" stroke-linejoin="miter" stroke-miterlimit="10">
<path d="M3124,1006 V946 C3124,905 3157,871.5 3198,871.5 H3262 C3303,871.5 3334,905 3334,946 V1006 Z" fill="#fac978" stroke="none"/>
<path d="M3124,1006 V946 C3124,905 3157,871.5 3198,871.5 H3262 C3303,871.5 3334,905 3334,946 V1006" fill="none" stroke="#343a50"/>
<path d="M3144,994.5 A26,26 0 0 0 3144,1046.5" fill="#f6f7fa" stroke="#343a50"/>
<path d="M3314,994.5 A26,26 0 0 1 3314,1046.5" fill="#f6f7fa" stroke="#343a50"/>
<path d="M3144,1009 L3146.6,1005.6 Q3166,995 3176,976 Q3180,983 3193,991 Q3203,975 3205,956.6 C3222,974 3258,984 3299.6,973 L3290,978 Q3297,996 3313.4,1005.6 L3314,1009 V1042 C3314,1081 3283,1112 3243,1112 H3214 C3175,1112 3144,1081 3144,1042 Z" fill="#f6f7fa" stroke="none"/>
<path d="M3144,989 V1042 C3144,1081 3175,1112 3214,1112 H3243 C3283,1112 3314,1081 3314,1042 V989" fill="none" stroke="#343a50"/>
<path d="M3146.6,1005.6 Q3166,995 3176,976" fill="none" stroke="#343a50"/>
<path d="M3166.4,954 Q3172,976 3193,991 Q3203,975 3205,956.6" fill="none" stroke="#343a50"/>
<path d="M3192.2,936 C3208,962 3250,986 3299.6,973 Q3301,956 3276.4,934.3" fill="none" stroke="#343a50"/>
<path d="M3286,978 Q3296,995 3313.4,1005.6" fill="none" stroke="#343a50"/>
<path d="M3067.7,1341.8 V1215 C3067.7,1166 3106,1127.5 3154.3,1127.5 H3304.3 C3352,1127.5 3390,1166 3390,1215 V1341.8 Z" fill="#92d7a1" stroke="none"/>
<path d="M3067.7,1271.8 H3127.5 V1341.8 H3067.7 Z" fill="#f6f7fa" stroke="none"/>
<path d="M3330.5,1271.8 H3390 V1341.8 H3330.5 Z" fill="#f6f7fa" stroke="none"/>
<path d="M3186,1127.5 A42.6,45.5 0 0 0 3271.3,1127.5 Z" fill="#f6f7fa" stroke="none"/>
<path d="M3067.7,1341.8 V1215 C3067.7,1166 3106,1127.5 3154.3,1127.5 H3304.3 C3352,1127.5 3390,1166 3390,1215 V1341.8 Z" fill="none" stroke="#343a50"/>
<path d="M3169.5,1127.5 A59.3,62 0 0 0 3288.2,1127.5" fill="none" stroke="#343a50"/>
<path d="M3186,1127.5 A42.6,45.5 0 0 0 3271.3,1127.5" fill="none" stroke="#343a50"/>
<path d="M3127.5,1223 V1341.8 M3330.5,1223 V1341.8" fill="none" stroke="#343a50"/>
<path d="M3067.7,1252.5 H3127.5 M3067.7,1271.8 H3127.5 M3330.5,1252.5 H3390 M3330.5,1271.8 H3390" fill="none" stroke="#343a50"/>
<path d="M3477,1058 C3466,1052 3440,1050 3428,1068 C3420,1082 3416,1110 3408,1150.5 C3430,1140 3460,1125 3474.6,1111 C3486,1098 3486,1075 3477,1058 Z" fill="#d9bb8f" stroke="#343a50"/>
<g transform="translate(7123,0) scale(-1,1)"><path d="M3477,1058 C3466,1052 3440,1050 3428,1068 C3420,1082 3416,1110 3408,1150.5 C3430,1140 3460,1125 3474.6,1111 C3486,1098 3486,1075 3477,1058 Z" fill="#d9bb8f" stroke="#343a50"/>
</g>
<path d="M3481,1053 C3462,1015 3454,998 3454,975 C3454,918 3490,875.4 3538,875.4 H3587 C3632,875.4 3668,918 3668,975 C3668,998 3660,1015 3641,1053 Z" fill="#d9bb8f" stroke="#343a50"/>
<path d="M3482,991.8 V1040 C3482,1082 3512,1113 3551,1113 H3572 C3610,1113 3639.7,1082 3639.7,1040 V991.8 Z" fill="#f6f7fa" stroke="#343a50"/>
<path d="M3605.8,923 Q3647,948 3652,991.8 H3469.3 Q3474,965 3491.6,947.3" fill="none" stroke="#343a50"/>
<path d="M3478.4,924 L3505.3,922 L3527,901.4 L3540.2,929.3 L3510.6,933.6 L3491,951.6 Z" fill="#8fd6a0" stroke="#343a50"/>
<path d="M3409.8,1342.2 V1210 C3409.8,1164 3447,1127.5 3495,1127.5 H3627.4 C3675,1127.5 3713,1164 3713,1210 V1342.2 Z" fill="#92d7a1" stroke="none"/>
<path d="M3409.8,1281 H3469.5 V1342.2 H3409.8 Z" fill="#f6f7fa" stroke="none"/>
<path d="M3653.2,1281 H3713 V1342.2 H3653.2 Z" fill="#f6f7fa" stroke="none"/>
<path d="M3518,1127.5 A41.55,40.5 0 0 0 3601.2,1127.5 Z" fill="#f6f7fa" stroke="none"/>
<path d="M3409.8,1342.2 V1210 C3409.8,1164 3447,1127.5 3495,1127.5 H3627.4 C3675,1127.5 3713,1164 3713,1210 V1342.2 Z" fill="none" stroke="#343a50"/>
<path d="M3501.8,1127.5 A57.4,56 0 0 0 3616.7,1127.5" fill="none" stroke="#343a50"/>
<path d="M3518,1127.5 A41.55,40.5 0 0 0 3601.2,1127.5" fill="none" stroke="#343a50"/>
<path d="M3529,1198 L3559.4,1208.4 L3589.9,1198 V1233.3 L3559.4,1223 L3529,1233.3 Z" fill="#f6f7fa" stroke="#343a50"/>
<path d="M3469.5,1232.4 V1342.2 M3653.2,1232.4 V1342.2" fill="none" stroke="#343a50"/>
<path d="M3409.8,1260.3 H3469.5 M3409.8,1281 H3469.5 M3653.2,1260.3 H3713 M3653.2,1281 H3713" fill="none" stroke="#343a50"/>
</g>
</svg>
<p class="t" id="p0" style="left:2874.7px;top:1431.5px;font-size:52px;color:#111111;letter-spacing:0.89px;">Proporția persoanelor tinere de 15-24 ani,</p>
<p class="t" id="p1" style="left:2876.7px;top:1499.9px;font-size:52px;color:#111111;letter-spacing:0.93px;">ocupate informal în activități non-agricole,</p>
<p class="t" id="p2" style="left:2876.7px;top:1568.3px;font-size:52px;color:#111111;letter-spacing:0.78px;">este de 1,2 ori mai mare decât proporția</p>
<p class="t" id="p3" style="left:2875.7px;top:1636.7px;font-size:52px;color:#111111;letter-spacing:1.09px;">pe țară.</p>
<footer class="t" id="foot" style="left:1894.5px;top:2413.0px;font-size:50px;color:#8896a5;letter-spacing:0.14px;">Sursa: <a>www.genderpulse.md</a> în baza datelor Biroului Național de Statistică al Republicii Moldova.</footer>
</div>
</body>
</html>
